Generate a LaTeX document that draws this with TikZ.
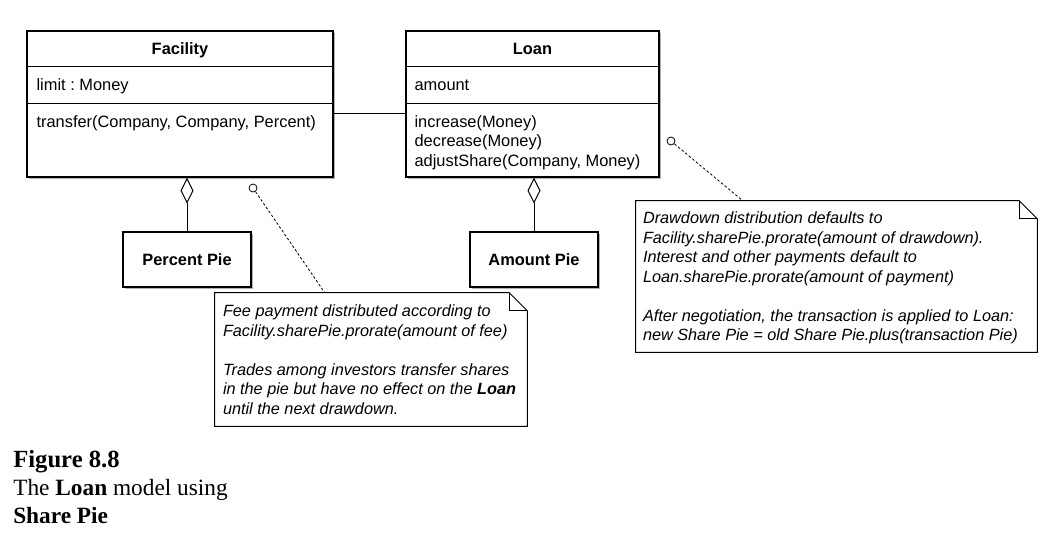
\documentclass[tikz,border=0pt]{standalone}
\usepackage{fontspec}
\setmainfont{Liberation Serif}
\newfontfamily\umlfont{Liberation Sans}
\usetikzlibrary{
    arrows.meta,
    calc,
    shadows,
    positioning
}
\frenchspacing

\begin{document}
\begin{tikzpicture}[x=0.75pt, y=-0.75pt,
    font=\umlfont\fontsize{12.3}{14.6}\selectfont,
    umlbox/.style={draw, line width=1pt, fill=white, inner sep=0pt,
        drop shadow={shadow xshift=1.5pt, shadow yshift=-1.5pt, fill=black!30, opacity=1}},
    txt/.style={inner sep=0pt, align=left},
    notetxt/.style={inner sep=0pt, align=left, font=\umlfont\itshape\fontsize{12.2}{14.6}\selectfont},
    notefrm/.style={inner sep=0pt},
    pin/.style={circle, draw, line width=0.6pt, inner sep=0pt, minimum size=6pt},
    agg/.style={line width=0.75pt, -{Diamond[open, length=19.5pt, width=9.75pt, line width=0.75pt]}},
    captxt/.style={inner sep=0pt, anchor=base west}
]
\useasboundingbox (0,0) rectangle (1050,536);

% classes
\node[umlbox, minimum width=229.5pt, minimum height=109.5pt] (facility) at (180,104) {};
\node[umlbox, minimum width=189.75pt, minimum height=109.5pt] (loan) at (532.5,104) {};
\foreach \c in {facility, loan}
    \draw[line width=0.75pt]
    ($(\c.north west)+(0,36)$) -- ($(\c.north east)+(0,36)$)
    ($(\c.north west)+(0,73)$) -- ($(\c.north east)+(0,73)$);

\node[txt, anchor=base] (facname) at ($(facility.north)+(0,24)$) {\bfseries Facility};
\node[txt, anchor=base west] (faclimit) at ($(facility.north west)+(10,60)$) {limit : Money};
\node[txt, anchor=north west] (facops) at ($(facility.north west)+(10,85)$) {transfer(Company, Company, Percent)};

\node[txt, anchor=base] (loanname) at ($(loan.north)+(0,24)$) {\bfseries Loan};
\node[txt, anchor=base west] (loanamt) at ($(loan.north west)+(9,60)$) {amount};
\node[txt, anchor=north west] (loanops) at ($(loan.north west)+(9,85)$)
    {increase(Money)\\decrease(Money)\\adjustShare(Company, Money)};

% pies
\node[umlbox, minimum width=96pt, minimum height=41.25pt, font=\umlfont\bfseries\fontsize{12.3}{14.6}\selectfont]
    (pctpie) at (187,259.5) {Percent Pie};
\node[umlbox, minimum width=96pt, minimum height=41.25pt, font=\umlfont\bfseries\fontsize{12.3}{14.6}\selectfont]
    (amtpie) at (534,259.5) {Amount Pie};

\draw[line width=0.75pt] (facility.east |- 0,113) -- (loan.west |- 0,113);
\draw[agg] (pctpie.north) -- (pctpie.north |- facility.south);
\draw[agg] (amtpie.north) -- (amtpie.north |- loan.south);

% notes
\node[notefrm, minimum width=234pt, minimum height=99.75pt] (feenote) at (371,359.5) {};
\node[notefrm, minimum width=300.75pt, minimum height=113.25pt] (drawnote) at (836.5,276.5) {};
\foreach \n in {feenote, drawnote} {
    \fill[black!30, shift={(2,2)}]
        (\n.north west) -- ($(\n.north east)+(-18,0)$) -- ($(\n.north east)+(0,18)$)
        -- (\n.south east) -- (\n.south west) -- cycle;
    \draw[line width=0.75pt, fill=white]
        (\n.north west) -- ($(\n.north east)+(-18,0)$) -- ($(\n.north east)+(0,18)$)
        -- (\n.south east) -- (\n.south west) -- cycle;
    \draw[line width=0.75pt]
        ($(\n.north east)+(-18,0)$) -- ($(\n.north east)+(-18,18)$) -- ($(\n.north east)+(0,18)$);
}
\node[notetxt, anchor=north west] (feetext) at ($(feenote.north west)+(8,12)$)
    {Fee payment distributed according to\\
     Facility.sharePie.prorate(amount of fee)\\[14.6pt]
     Trades among investors transfer shares\\
     in the pie but have no effect on the \textbf{Loan}\\
     until the next drawdown.};
\node[notetxt, anchor=north west] (drawtext) at ($(drawnote.north west)+(7,11)$)
    {Drawdown distribution defaults to\\
     Facility.sharePie.prorate(amount of drawdown).\\
     Interest and other payments default to\\
     Loan.sharePie.prorate(amount of payment)\\[14.6pt]
     After negotiation, the transaction is applied to Loan:\\
     new Share Pie = old Share Pie.plus(transaction Pie)};

\node[pin] (feepin) at (253,188) {};
\node[pin] (drawpin) at (671,141) {};
\coordinate (feetip) at ($(feenote.north west)+(110,0)$);
\coordinate (drawtip) at ($(drawnote.north west)+(107,0)$);
\draw[line width=0.6pt, dash pattern=on 2pt off 1.5pt] (feepin) -- (feetip);
\draw[line width=0.6pt, dash pattern=on 2pt off 1.5pt] (drawpin) -- (drawtip);

% caption
\node[captxt, font=\rmfamily\bfseries\fontsize{18.5}{22}\selectfont] (figno) at (13,467) {Figure 8.8};
\node[captxt, font=\rmfamily\fontsize{17.5}{21}\selectfont] (figline1) at (13,495) {The \textbf{Loan} model using};
\node[captxt, font=\rmfamily\bfseries\fontsize{17.5}{21}\selectfont] (figline2) at (13,523) {Share Pie};
\end{tikzpicture}
\end{document}
